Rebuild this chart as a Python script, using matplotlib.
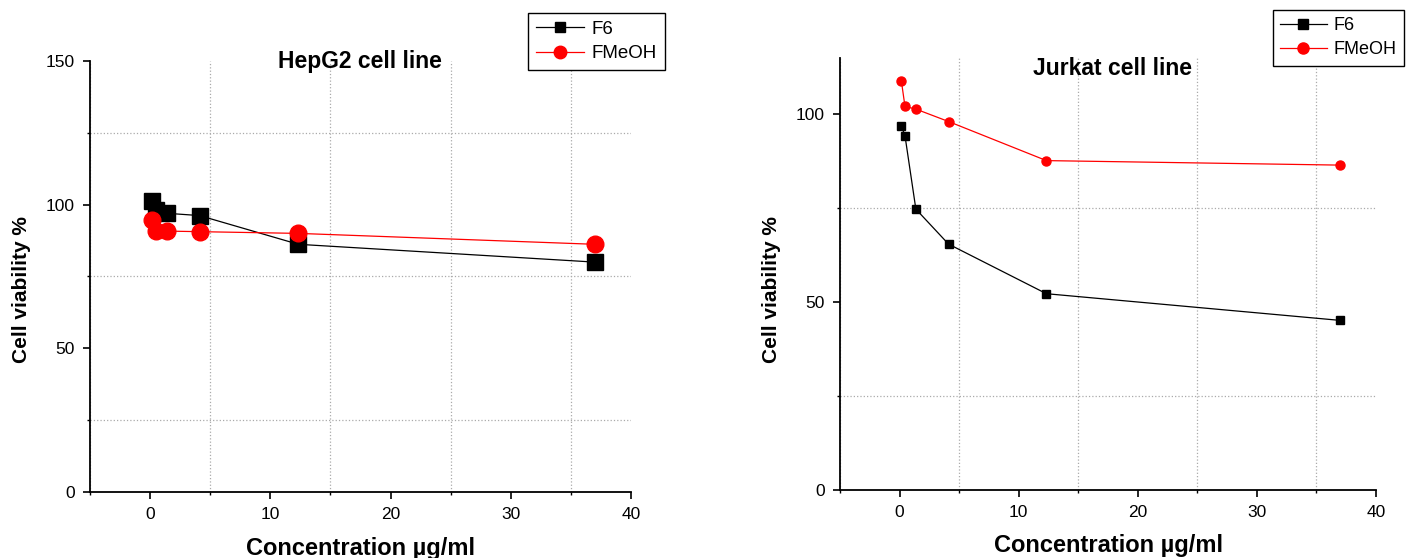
import matplotlib.pyplot as plt
from matplotlib.ticker import MultipleLocator

plt.rcParams['font.family'] = ['Liberation Sans', 'DejaVu Sans']

# concentrations (ug/ml), three-fold dilutions
conc = [0.152, 0.457, 1.37, 4.11, 12.33, 37.0]

# HepG2
hepg2_f6 = [101.4, 98.0, 97.0, 96.2, 86.2, 80.0]
hepg2_fmeoh = [94.7, 90.8, 90.8, 90.6, 90.0, 86.2]

# Jurkat
jurkat_f6 = [96.8, 94.2, 74.7, 65.4, 52.2, 45.1]
jurkat_fmeoh = [108.8, 102.0, 101.3, 98.0, 87.6, 86.4]

titles = ['HepG2 cell line', 'Jurkat cell line']


def estilo_ejes(ax, ymax, ymajor):
    ax.set_xlim(-5, 40)
    ax.set_ylim(0, ymax)
    ax.xaxis.set_major_locator(MultipleLocator(10))
    ax.xaxis.set_minor_locator(MultipleLocator(5))
    ax.yaxis.set_major_locator(MultipleLocator(ymajor))
    ax.yaxis.set_minor_locator(MultipleLocator(ymajor / 2))
    ax.spines['top'].set_visible(False)
    ax.spines['right'].set_visible(False)
    ax.spines['left'].set_linewidth(1.3)
    ax.spines['bottom'].set_linewidth(1.3)
    ax.tick_params(which='major', direction='out', length=5, width=1.2, labelsize=12.5, pad=6)
    ax.tick_params(which='minor', direction='out', length=2.5, width=1.0)
    ax.grid(True, which='minor', linestyle=':', color='#aaaaaa', linewidth=0.9)
    ax.grid(False, which='major')
    ax.set_axisbelow(True)


def leyenda(handles, loc, anchor, ms, fs):
    leg = fig.legend(handles=handles, loc=loc, bbox_to_anchor=anchor,
                     fontsize=fs, frameon=True, fancybox=False, edgecolor='black', framealpha=1,
                     borderpad=0.4, handlelength=2.6, handletextpad=0.4, labelspacing=0.4,
                     borderaxespad=0)
    for h, m in zip(leg.legend_handles, ms):
        h.set_markersize(m)
    return leg


fig = plt.figure(figsize=(14.07, 5.58), dpi=100)

# Panel izquierdo: HepG2
ax1 = fig.add_axes([0.064, 0.1183, 0.3845, 0.7724])
estilo_ejes(ax1, 150, 50)
l1, = ax1.plot(conc, hepg2_f6, color='black', marker='s', markersize=11, linewidth=0.9, label='F6', clip_on=False)
l2, = ax1.plot(conc, hepg2_fmeoh, color='red', marker='o', markersize=12, linewidth=0.9, label='FMeOH', clip_on=False)
ax1.text(0.499, 0.998, titles[0], transform=ax1.transAxes, ha='center', va='center',
         fontsize=16.5, fontweight='bold')
ax1.text(0.5, -0.132, 'Concentration µg/ml', transform=ax1.transAxes, ha='center', va='center',
         fontsize=17, fontweight='bold')
ax1.text(-0.126, 0.469, 'Cell viability %', transform=ax1.transAxes, ha='center', va='center',
         rotation=90, fontsize=15, fontweight='bold')
leyenda([l1, l2], 'upper left', (0.3753, 0.9767), [7.5, 9], 13.5)

# Panel derecho: Jurkat
ax2 = fig.add_axes([0.597, 0.1219, 0.381, 0.7749])
estilo_ejes(ax2, 115, 50)
m1, = ax2.plot(conc, jurkat_f6, color='black', marker='s', markersize=6, linewidth=0.9, label='F6', clip_on=False)
m2, = ax2.plot(conc, jurkat_fmeoh, color='red', marker='o', markersize=6.5, linewidth=0.9, label='FMeOH', clip_on=False)
ax2.text(0.509, 0.974, titles[1], transform=ax2.transAxes, ha='center', va='center',
         fontsize=16.5, fontweight='bold')
ax2.text(0.5, -0.128, 'Concentration µg/ml', transform=ax2.transAxes, ha='center', va='center',
         fontsize=17, fontweight='bold')
ax2.text(-0.127, 0.4625, 'Cell viability %', transform=ax2.transAxes, ha='center', va='center',
         rotation=90, fontsize=15, fontweight='bold')
leyenda([m1, m2], 'upper right', (0.998, 0.982), [6.5, 8], 13)

fig.savefig('out.png', dpi=100)
